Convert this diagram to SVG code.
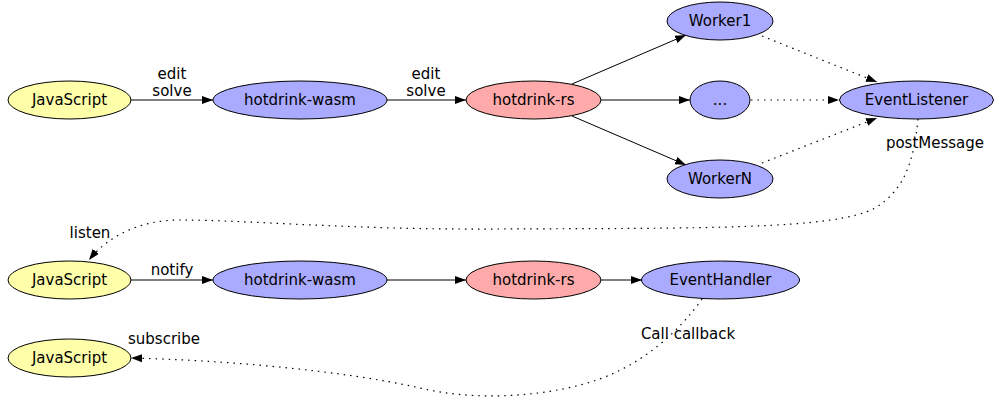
<svg xmlns="http://www.w3.org/2000/svg" width="994" height="406" viewBox="0 0 994 406">
  <style>
    .node ellipse { stroke: #000; stroke-width: 1; }
    .js { fill: #ffffaa; }
    .blue { fill: #aaaaff; }
    .rs { fill: #ffaaaa; }
    text { font-family: "DejaVu Sans", "Liberation Sans", sans-serif; font-size: 15px; fill: #000; }
    .node text { text-anchor: middle; }
    .lbl { text-anchor: middle; }
    .edge { fill: none; stroke: #000; stroke-width: 1; marker-end: url(#arrow); }
    .dot { stroke-dasharray: 1.5 5; stroke-width: 1.2; }
  </style>
  <defs>
    <marker id="arrow" markerUnits="userSpaceOnUse" markerWidth="12" markerHeight="10" refX="11" refY="5" orient="auto">
      <path d="M0,1 L11,5 L0,9 z" fill="#000"/>
    </marker>
  </defs>
  <rect width="994" height="406" fill="#fff"/>

  <!-- connectors -->
  <g id="edges">
    <line class="edge" x1="131" y1="100" x2="213" y2="100"/>
    <line class="edge" x1="387" y1="100" x2="466" y2="100"/>
    <line class="edge" x1="572" y1="84" x2="686" y2="35"/>
    <line class="edge" x1="601" y1="100" x2="690" y2="100"/>
    <line class="edge" x1="572" y1="116" x2="686" y2="165"/>
    <line class="edge dot" x1="762" y1="36" x2="877" y2="82"/>
    <line class="edge dot" x1="751" y1="100" x2="839" y2="100"/>
    <line class="edge dot" x1="762" y1="163" x2="877" y2="118"/>
    <path class="edge dot" d="M918,119 C914,160 905,190 875,208 C835,230 700,228 500,229 C350,230 250,220 180,220 C140,220 108,236 89,260"/>
    <line class="edge" x1="131" y1="280" x2="213" y2="280"/>
    <line class="edge" x1="387" y1="280" x2="466" y2="280"/>
    <line class="edge" x1="601" y1="280" x2="642" y2="280"/>
    <path class="edge dot" d="M702,299 C680,330 640,370 580,385 C530,398 470,400 420,388 C340,370 220,360 131,358"/>

    <text class="lbl" x="172" y="79">edit</text>
    <text class="lbl" x="172" y="96">solve</text>
    <text class="lbl" x="426" y="79">edit</text>
    <text class="lbl" x="426" y="96">solve</text>
    <text class="lbl" x="935" y="148">postMessage</text>
    <text class="lbl" x="90" y="238">listen</text>
    <text class="lbl" x="172" y="275">notify</text>
    <text class="lbl" x="164" y="344">subscribe</text>
    <text class="lbl" x="688" y="339">Call callback</text>
  </g>

  <g id="js1" class="node"><ellipse class="js" cx="69.5" cy="100" rx="61.5" ry="19"/><text x="69.5" y="105">JavaScript</text></g>
  <g id="wasm1" class="node"><ellipse class="blue" cx="300" cy="100" rx="87" ry="19"/><text x="300" y="105">hotdrink-wasm</text></g>
  <g id="rs1" class="node"><ellipse class="rs" cx="533.5" cy="100" rx="67.5" ry="19"/><text x="533.5" y="105">hotdrink-rs</text></g>
  <g id="worker1" class="node"><ellipse class="blue" cx="720" cy="21" rx="53" ry="19"/><text x="720" y="26">Worker1</text></g>
  <g id="workerDots" class="node"><ellipse class="blue" cx="720" cy="100" rx="30" ry="19"/><text x="720" y="105">...</text></g>
  <g id="workerN" class="node"><ellipse class="blue" cx="720" cy="179" rx="53" ry="19"/><text x="720" y="184">WorkerN</text></g>
  <g id="eventListener" class="node"><ellipse class="blue" cx="916.5" cy="100" rx="77" ry="19"/><text x="916.5" y="105">EventListener</text></g>

  <g id="js2" class="node"><ellipse class="js" cx="69.5" cy="280" rx="61.5" ry="19"/><text x="69.5" y="285">JavaScript</text></g>
  <g id="wasm2" class="node"><ellipse class="blue" cx="300" cy="280" rx="87" ry="19"/><text x="300" y="285">hotdrink-wasm</text></g>
  <g id="rs2" class="node"><ellipse class="rs" cx="533.5" cy="280" rx="67.5" ry="19"/><text x="533.5" y="285">hotdrink-rs</text></g>
  <g id="eventHandler" class="node"><ellipse class="blue" cx="720.5" cy="280" rx="79" ry="19"/><text x="720.5" y="285">EventHandler</text></g>

  <g id="js3" class="node"><ellipse class="js" cx="69.5" cy="358" rx="61.5" ry="19"/><text x="69.5" y="363">JavaScript</text></g>
</svg>
